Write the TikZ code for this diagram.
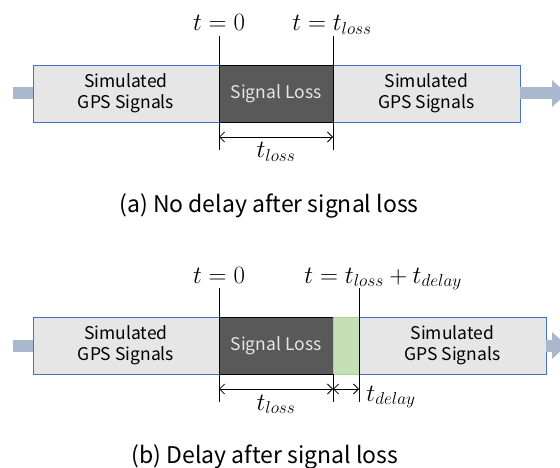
\documentclass[tikz,border=0pt]{standalone}
\usepackage{fontspec}
\setmainfont{Noto Sans CJK SC}
\usepackage{tikz}
\usetikzlibrary{arrows.meta,positioning}
\usepackage{color}

\definecolor{simgray}{HTML}{E7E6E6}
\definecolor{boxblue}{HTML}{4472C4}
\definecolor{lossgray}{HTML}{595959}
\definecolor{delaygreen}{HTML}{C5E0B4}
\definecolor{delayedge}{HTML}{A9D18E}
\definecolor{flowblue}{HTML}{A9B8CF}

\begin{document}
\begin{tikzpicture}[x=1pt, y=-1pt, line width=0.9pt, node distance=0pt]
  \tikzstyle{sim}=[draw=boxblue,fill=simgray,minimum width=187pt,minimum height=57pt,inner sep=0pt,outer sep=0pt,align=center,font=\fontsize{17.5}{21}\selectfont]
  \tikzstyle{loss}=[sim,draw=black,fill=lossgray,text=simgray,minimum width=114pt]
  \tikzstyle{delay}=[sim,draw=delayedge,fill=delaygreen,minimum width=26pt]
  \tikzstyle{flow}=[draw=flowblue,line width=12pt]
  \tikzstyle{head}=[-{Triangle[length=15pt 0 0,width=26pt 0 0]}]
  \tikzstyle{dim}=[{Straight Barb[length=5pt,width=10pt]}-{Straight Barb[length=5pt,width=10pt]},line width=0.8pt]
  \tikzstyle{tmark}=[font=\fontsize{25}{28}\selectfont,inner sep=0pt]
  \tikzstyle{caption}=[font=\fontsize{23}{27}\selectfont,inner sep=0pt]

  \useasboundingbox (0,0) rectangle (560,468);

  % (a) no delay
  \node[sim,minimum width=186pt,anchor=west] (simA)  at (33,93.5) {Simulated\\GPS Signals};
  \node[loss]  (lossA) [right=of simA]  {Signal Loss};
  \node[sim]   (simA2) [right=of lossA] {Simulated\\GPS Signals};

  \coordinate (inA)  at (13,93.5);
  \coordinate (outA) at (567,93.5);
  \draw[flow] (inA) -- (simA.west);
  \draw[flow,head] (simA2.east) -- (outA);

  \coordinate (a0top) at (219,36);  \coordinate (a0bot) at (219,150);
  \coordinate (a1top) at (333,36);  \coordinate (a1bot) at (333,150);
  \coordinate (a0arr) at (219,137); \coordinate (a1arr) at (333,137);
  \draw (a0top) -- (a0bot);
  \draw (a1top) -- (a1bot);
  \draw[dim] (a0arr) -- (a1arr);

  \node[tmark,anchor=base] (tzeroA) at (219,31) {$t=0$};
  \node[tmark,anchor=base] (tlossA) at (332,31) {$t=t_{loss}$};
  \node[tmark,anchor=base] (durA)   at (276,158) {$t_{loss}$};
  \node[caption,anchor=base] (capA) at (269,213) {(a) No delay after signal loss};

  % (b) delay after loss
  \node[sim,minimum width=186pt,anchor=west] (simB)  at (33,345.5) {Simulated\\GPS Signals};
  \node[loss]  (lossB)  [right=of simB]   {Signal Loss};
  \node[delay] (delayB) [right=of lossB]  {};
  \node[sim]   (simB2)  [right=of delayB] {Simulated\\GPS Signals};

  \coordinate (inB)  at (13,345.5);
  \coordinate (outB) at (567,345.5);
  \draw[flow] (inB) -- (simB.west);
  \draw[flow,head] (simB2.east) -- (outB);

  \coordinate (b0top) at (219,288); \coordinate (b0bot) at (219,402);
  \coordinate (b2top) at (359,288); \coordinate (b2bot) at (359,402);
  \coordinate (b0arr) at (219,389); \coordinate (b1arr) at (333,389);
  \coordinate (b2arr) at (359,389); \coordinate (b1bot) at (333,402);
  \draw (b0top) -- (b0bot);
  \draw (b2top) -- (b2bot);
  \draw (lossB.south east) -- (b1bot);
  \draw[dim] (b0arr) -- (b1arr);
  \draw[dim] (b1arr) -- (b2arr);

  \node[tmark,anchor=base] (tzeroB) at (219,283) {$t=0$};
  \node[tmark,anchor=base west] (tendB) at (304,283) {$t=t_{loss}+t_{delay}$};
  \node[tmark,anchor=base] (durB)   at (276,410) {$t_{loss}$};
  \node[tmark,anchor=base west] (delB) at (366,401) {$t_{delay}$};
  \node[caption,anchor=base] (capB) at (265,463) {(b) Delay after signal loss};
\end{tikzpicture}
\end{document}
